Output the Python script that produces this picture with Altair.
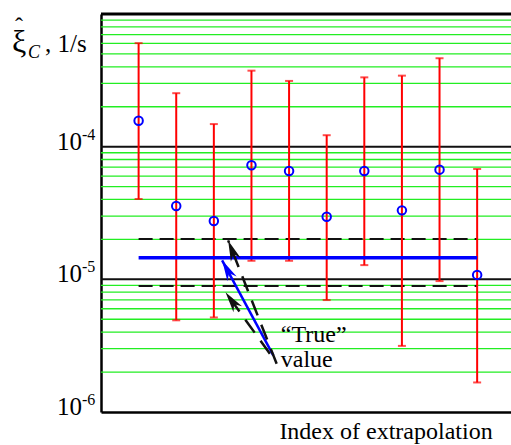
import altair as alt
import pandas as pd

# ---- data ----
index = [1, 2, 3, 4, 5, 6, 7, 8, 9, 10]
estimate = [1.57e-4, 3.57e-5, 2.75e-5, 7.24e-5, 6.56e-5, 2.96e-5, 6.56e-5, 3.31e-5, 6.71e-5, 1.08e-5]
upper = [6.03e-4, 2.53e-4, 1.48e-4, 3.74e-4, 3.13e-4, 1.22e-4, 3.33e-4, 3.43e-4, 4.64e-4, 6.79e-5]
lower = [4.03e-5, 4.91e-6, 5.16e-6, 1.38e-5, 1.38e-5, 6.98e-6, 1.28e-5, 3.15e-6, 9.7e-6, 1.67e-6]

true_value = [1.455e-5]
band_values = [2.01e-5, 8.9e-6]
line_start = [1]
line_end = [10]

decade_lines = [1e-5, 1e-4]
frame_top = [1e-3]
decades = [1e-6, 1e-5, 1e-4]
minor_mult = [2, 3, 4, 5, 6, 7, 8, 9]
minor_lines = [m * d for d in decades for m in minor_mult]

tick_vals = [1e-4, 1e-5, 1e-6]
tick_base = ["10", "10", "10"]
tick_exp = ["-4", "-5", "-6"]

# arrows: blue (true value), black dashed upper, black dashed lower
arrow_tail_x = [4.58, 4.67, 4.49]
arrow_tail_y = [2.67e-6, 2.31e-6, 2.75e-6]
arrow_tip_x = [3.22, 3.38, 3.31]
arrow_tip_y = [1.39e-5, 1.966e-5, 8.0e-6]
arrow_angle = [331.8, 338.6, 324.3]
arrow_color = ["#0000ff", "#111111", "#111111"]

label_text = ["\u201cTrue\u201d", "value"]
label_x = [4.78, 4.78]
label_y = [3.38e-6, 2.18e-6]

FONT = "'Liberation Serif', 'Times New Roman', Times, serif"

xscale = alt.Scale(domain=[0, 10.9], nice=False, zero=False)
yscale = alt.Scale(type="log", domain=[1e-6, 1e-3], nice=False)

xaxis = alt.Axis(title="Index of extrapolation", labels=False, ticks=False, grid=False,
                 domain=True, domainColor="black", domainWidth=2.5,
                 titleFont=FONT, titleFontSize=24, titleFontWeight="normal", titleColor="black",
                 titleX=284.5, titleY=26, titleAlign="center", titleBaseline="alphabetic")
yaxis = alt.Axis(title="", labels=False, ticks=False, grid=False,
                 domain=True, domainColor="black", domainWidth=2.5)


def X(f):
    return alt.X(f, type="quantitative", scale=xscale, axis=xaxis)


def Y(f):
    return alt.Y(f, type="quantitative", scale=yscale, axis=yaxis)


bars = pd.DataFrame({"i": index, "est": estimate, "hi": upper, "lo": lower})
arrows = pd.DataFrame({"tx": arrow_tail_x, "ty": arrow_tail_y, "hx": arrow_tip_x, "hy": arrow_tip_y,
                       "ang": arrow_angle, "col": arrow_color})

layers = []

# grid
layers.append(alt.Chart(pd.DataFrame({"v": minor_lines})).mark_rule(
    color="#22ee22", strokeWidth=1.3).encode(y=Y("v")))
layers.append(alt.Chart(pd.DataFrame({"v": decade_lines})).mark_rule(
    color="#111111", strokeWidth=2).encode(y=Y("v")))
layers.append(alt.Chart(pd.DataFrame({"v": frame_top})).mark_rule(
    color="black", strokeWidth=3).encode(y=Y("v")))

# dashed band lines
band_df = pd.DataFrame({"v": band_values, "x0": line_start * 2, "x1": line_end * 2})
layers.append(alt.Chart(band_df).mark_rule(
    color="#111111", strokeWidth=2, strokeDash=[14, 7]).encode(x=X("x0"), x2="x1", y=Y("v")))

# error bars
layers.append(alt.Chart(bars).mark_rule(color="#ff0000", strokeWidth=2).encode(
    x=X("i"), y=Y("lo"), y2="hi"))
layers.append(alt.Chart(bars).mark_tick(color="#ff0000", orient="horizontal", size=8, thickness=2).encode(
    x=X("i"), y=Y("hi")))
layers.append(alt.Chart(bars).mark_tick(color="#ff0000", orient="horizontal", size=8, thickness=2).encode(
    x=X("i"), y=Y("lo")))

# true value line
tv_df = pd.DataFrame({"v": true_value, "x0": line_start, "x1": line_end})
layers.append(alt.Chart(tv_df).mark_rule(color="#0000ff", strokeWidth=3.5).encode(
    x=X("x0"), x2="x1", y=Y("v")))

# estimates
layers.append(alt.Chart(bars).mark_point(shape="circle", filled=False, color="#0000ff",
                                         strokeWidth=2, size=72, opacity=1).encode(
    x=X("i"), y=Y("est")))

# arrows
layers.append(alt.Chart(arrows.iloc[[0]]).mark_rule(color="#0000ff", strokeWidth=2.5).encode(
    x=X("tx"), y=Y("ty"), x2="hx", y2="hy"))
layers.append(alt.Chart(arrows.iloc[[1, 2]]).mark_rule(color="#111111", strokeWidth=2.5,
                                                       strokeDash=[16, 10]).encode(
    x=X("tx"), y=Y("ty"), x2="hx", y2="hy"))
layers.append(alt.Chart(arrows).mark_point(
    shape="M0,0 L0.5,2 L0,1.4 L-0.5,2 Z", filled=True, size=441, strokeWidth=0, opacity=1).encode(
    x=X("hx"), y=Y("hy"), angle=alt.Angle("ang:Q", scale=None), color=alt.Color("col:N", scale=None)))

# annotation text
layers.append(alt.Chart(pd.DataFrame({"t": label_text, "x": label_x, "y": label_y})).mark_text(
    align="left", baseline="alphabetic", font=FONT, fontSize=24, color="black").encode(
    x=X("x"), y=Y("y"), text="t:N"))

# tick labels 10^n
ticks_df = pd.DataFrame({"v": tick_vals, "b": tick_base, "e": tick_exp})
layers.append(alt.Chart(ticks_df).mark_text(
    align="right", baseline="alphabetic", font=FONT, fontSize=25, color="black", dy=3).encode(
    x=alt.value(-19), y=Y("v"), text="b:N"))
layers.append(alt.Chart(ticks_df).mark_text(
    align="left", baseline="alphabetic", font=FONT, fontSize=16, color="black", dy=-7).encode(
    x=alt.value(-19), y=Y("v"), text="e:N"))

# y title pieces: xi-hat_C , 1/s
one = pd.DataFrame({"k": [0]})
layers.append(alt.Chart(one).mark_text(align="left", baseline="alphabetic", font=FONT, fontSize=32,
                                       color="black", text="\u03be").encode(
    x=alt.value(-89), y=alt.value(38)))
layers.append(alt.Chart(one).mark_text(align="center", baseline="alphabetic", font=FONT, fontSize=24,
                                       color="black", text="\u02c6").encode(
    x=alt.value(-82), y=alt.value(20)))
layers.append(alt.Chart(one).mark_text(align="left", baseline="alphabetic", font=FONT, fontSize=18,
                                       fontStyle="italic", color="black", text="C").encode(
    x=alt.value(-73), y=alt.value(44)))
layers.append(alt.Chart(one).mark_text(align="left", baseline="alphabetic", font=FONT, fontSize=25,
                                       color="black", text=", 1/s").encode(
    x=alt.value(-56), y=alt.value(38)))

chart = alt.layer(*layers).properties(
    width=410, height=398,
    autosize=alt.AutoSizeParams(type="none"),
    padding={"left": 101, "top": 14, "right": 0, "bottom": 33},
).configure_view(strokeWidth=0)

chart.save("out.html", embed_options={"renderer": "svg", "actions": False})
